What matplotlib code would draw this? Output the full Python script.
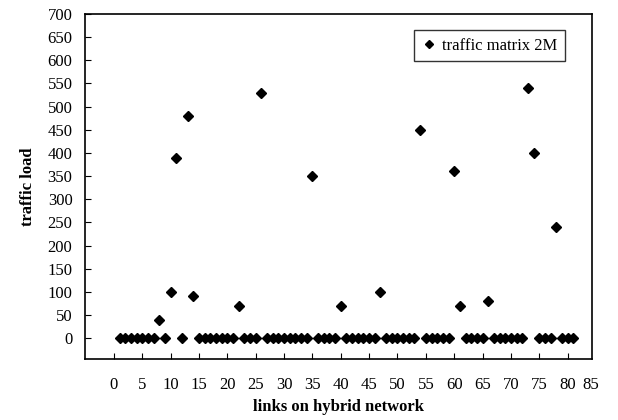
import matplotlib
matplotlib.use("Agg")
import matplotlib.pyplot as plt

# link index on the hybrid network and the traffic load on it
links = list(range(1, 82))
traffic_load = [
    0, 0, 0, 0, 0, 0, 0, 40, 0, 100,        # 1-10
    390, 0, 480, 90, 0, 0, 0, 0, 0, 0,      # 11-20
    0, 70, 0, 0, 0, 530, 0, 0, 0, 0,        # 21-30
    0, 0, 0, 0, 350, 0, 0, 0, 0, 70,        # 31-40
    0, 0, 0, 0, 0, 0, 100, 0, 0, 0,         # 41-50
    0, 0, 0, 450, 0, 0, 0, 0, 0, 360,       # 51-60
    70, 0, 0, 0, 0, 80, 0, 0, 0, 0,         # 61-70
    0, 0, 540, 400, 0, 0, 0, 240, 0, 0,     # 71-80
    0,                                      # 81
]
x_ticks = [0, 5, 10, 15, 20, 25, 30, 35, 40, 45, 50, 55, 60, 65, 70, 75, 80]
y_ticks = [0, 50, 100, 150, 200, 250, 300, 350, 400, 450, 500, 550, 600, 650, 700]
series_label = "traffic matrix 2M"

plt.rcParams["font.family"] = ["Liberation Serif", "DejaVu Serif"]
FS = 12

fig = plt.figure(figsize=(6.18, 4.20), dpi=100)
ax = fig.add_axes([85 / 618, 1 - 359 / 420, (592 - 85) / 618, (359 - 14) / 420])

ax.plot(links, traffic_load, linestyle="none", marker="D", ms=5.2,
        color="black", label=series_label)

ax.set_xlim(-5.1, 84.3)
ax.set_ylim(-45, 700)
ax.set_xticks(x_ticks)
ax.set_yticks(y_ticks)
ax.tick_params(axis="both", direction="in", length=4, width=0.8,
               labelsize=FS, top=False, right=False)
ax.tick_params(axis="x", pad=13)
ax.tick_params(axis="y", pad=9)
# Excel squeezes the last label "85" just inside the frame
ax.annotate("85", xy=(84.0, 0), xycoords=("data", "axes fraction"),
            xytext=(0, -13), textcoords="offset points",
            ha="center", va="top", fontsize=FS)
for sp in ax.spines.values():
    sp.set_linewidth(1.2)

ax.set_xlabel("links on hybrid network", fontsize=FS, fontweight="bold", labelpad=4)
ax.set_ylabel("traffic load", fontsize=FS, fontweight="bold", labelpad=8)

leg = ax.legend(loc="upper right", bbox_to_anchor=(573 / 618, 1 - 22 / 420),
                bbox_transform=fig.transFigure, fontsize=FS, frameon=True,
                fancybox=False, markerscale=0.8, handlelength=0.8,
                handletextpad=0.4, borderpad=0.45)
leg.get_frame().set_edgecolor("black")
leg.get_frame().set_linewidth(1.0)

fig.savefig("out.png", dpi=100)
